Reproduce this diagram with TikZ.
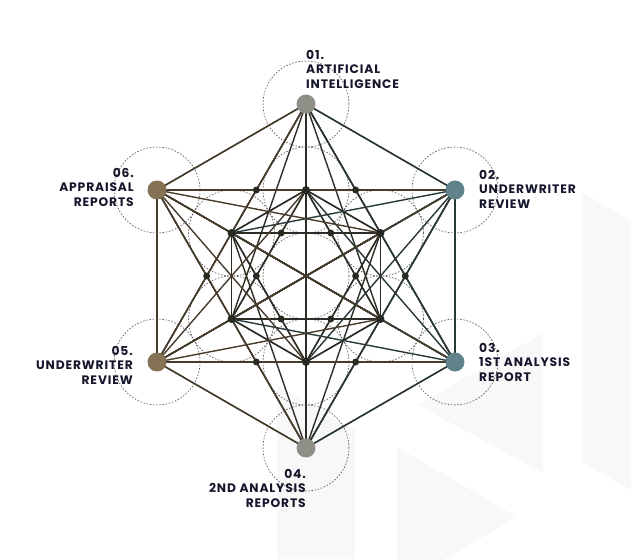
\documentclass[tikz,border=0pt]{standalone}
\usepackage{fontspec}
\setmainfont{Poppins}[LetterSpace=7]
\usepackage{tikz}
\usepackage{xcolor}

\definecolor{stone}{HTML}{8F8F87}
\definecolor{bronze}{HTML}{857254}
\definecolor{slate}{HTML}{5E818A}
\definecolor{inkline}{HTML}{2C2E25}
\definecolor{bronzeline}{HTML}{473C2B}
\definecolor{slateline}{HTML}{283837}
\definecolor{dotink}{HTML}{262A22}
\definecolor{textink}{HTML}{15162B}
\definecolor{ghost}{HTML}{F8F8F8}

\begin{document}
\begin{tikzpicture}[x=1pt,y=1pt,
    link/.style={line width=1.4pt},
    ring/.style={gray!70!black, line width=0.65pt, dash pattern=on 1.6pt off 1.6pt},
    knot/.style={circle, fill=dotink, inner sep=0, minimum size=8pt},
    hub/.style={circle, fill=#1, inner sep=0, minimum size=19pt},
    tag/.style={font=\bfseries\fontsize{12.3}{14.5}\selectfont, text=textink, inner sep=0}]
\clip (-306,-283) rectangle (325,276);

% Fond clair
\fill[ghost] (-29,-109) -- (49,-154) -- (49,-283) -- (-29,-283) -- cycle;
\fill[ghost] (91,-171) -- (211,-241) -- (91,-311) -- cycle;
\fill[ghost] (112,-129) -- (237,-57) -- (237,-197) -- cycle;
\fill[ghost] (277,83) -- (325,55) -- (325,-214) -- (277,-187) -- cycle;

% Points du cube
\coordinate (c) at (0,0);
\foreach \i/\a in {1/90,2/30,3/-30,4/-90,5/-150,6/150} {
    \coordinate (in\i) at (\a:86);
    \coordinate (out\i) at (\a:172);
}

% Cercles
\foreach \p in {c,in1,in2,in3,in4,in5,in6,out1,out2,out3,out4,out5,out6}
    \draw[ring] (\p) circle (43);

% Liaisons
\foreach \k in {1,...,6}
    \foreach \p in {in1,in2,in3,in4,in5,in6,c}
        \draw[link, inkline] (in\k) -- (\p);
\foreach \k/\col in {1/inkline,4/inkline,2/slateline,3/slateline,5/bronzeline,6/bronzeline}
    \foreach \p in {out1,out2,out3,out4,out5,out6,in1,in2,in3,in4,in5,in6,c}
        \draw[link, \col] (out\k) -- (\p);

% Intersections
\foreach \i in {1,...,6}
    \node[knot] (k\i) at (in\i) {};
\foreach \a in {0,60,120,180,240,300} {
    \node[knot, minimum size=7pt] (s\a) at (\a:49.65) {};
    \node[knot, minimum size=7pt] (t\a) at (\a:99.3) {};
}

% Sommets
\node[hub=stone] (h1) at (out1) {};
\node[hub=slate] (h2) at (out2) {};
\node[hub=slate] (h3) at (out3) {};
\node[hub=stone] (h4) at (out4) {};
\node[hub=bronze] (h5) at (out5) {};
\node[hub=bronze] (h6) at (out6) {};

% Etiquettes
\node[tag, anchor=west, align=left] (lab1) at (0,207) {01.\\ARTIFICIAL\\INTELLIGENCE};
\node[tag, anchor=west, align=left] (lab2) at (173,87) {02.\\UNDERWRITER\\REVIEW};
\node[tag, anchor=west, align=left] (lab3) at (173,-86) {03.\\1ST ANALYSIS\\REPORT};
\node[tag, anchor=east, align=right] (lab4) at (0,-212) {04.\\2ND ANALYSIS\\REPORTS};
\node[tag, anchor=east, align=right] (lab5) at (-173,-89) {05.\\UNDERWRITER\\REVIEW};
\node[tag, anchor=east, align=right] (lab6) at (-172,89) {06.\\APPRAISAL\\REPORTS};
\end{tikzpicture}
\end{document}
